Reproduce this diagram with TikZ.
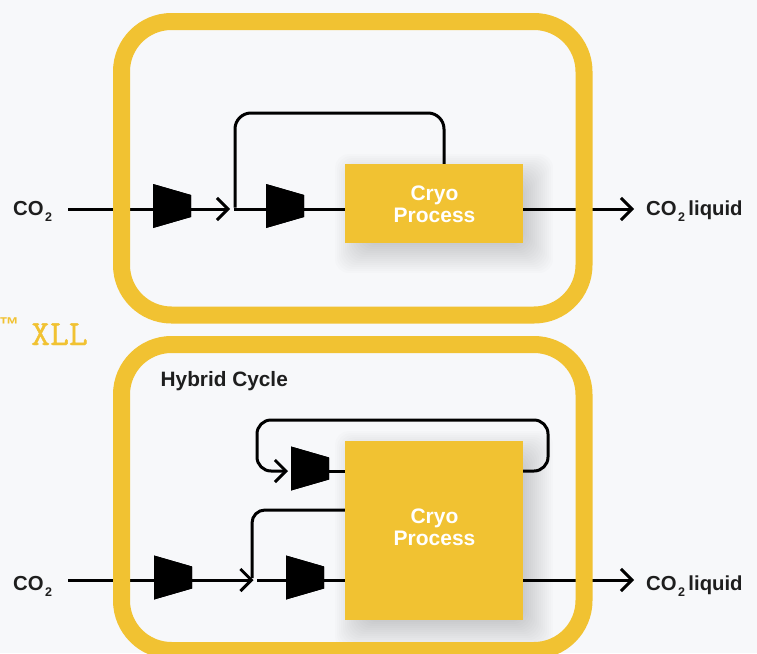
\documentclass[tikz,border=0pt]{standalone}
\usepackage{fontspec}
\setmainfont{Liberation Sans}
\newfontfamily\xllfont[FakeBold=1.2,FakeStretch=1.03]{Latin Modern Mono}
\usetikzlibrary{arrows.meta}
\definecolor{paper}{HTML}{F7F8FA}
\definecolor{gold}{HTML}{F1C232}
\definecolor{ink}{HTML}{1E1E1E}
\newcommand{\cotwo}{CO\kern1.5pt\raisebox{-5.5pt}{\fontsize{12.5}{13}\selectfont 2}}
\tikzset{
  line/.style={draw=black,line width=3pt},
  barb/.style={line,-{Straight Barb[length=11pt,width=22pt,line width=3pt]}},
  comp/.style={minimum width=38pt,minimum height=44pt,inner sep=0pt,outer sep=0pt,
    path picture={\fill[black] (path picture bounding box.north west)
      -- ([yshift=-11pt]path picture bounding box.north east)
      -- ([yshift=11pt]path picture bounding box.south east)
      -- (path picture bounding box.south west) -- cycle;}},
  cryo/.style={fill=gold,minimum width=178pt,inner sep=0pt,outer sep=0pt},
  frame/.style={draw=gold,line width=17pt,rounded corners=50pt},
  label/.style={text=ink,font=\fontsize{20.3}{22}\selectfont\bfseries,inner sep=0pt},
  cryotext/.style={text=white,font=\fontsize{21}{22}\selectfont\bfseries,align=center,inner sep=0pt},
}
\newcommand{\softshadow}[4]{% x1 y1 x2 y2
  \foreach \s in {-8,-6,...,20}{
    \fill[black,opacity=0.012,rounded corners=14pt]
      ({#1+10-\s},{#2+10-\s}) rectangle ({#3+10+\s},{#4+10+\s});
  }
}
\begin{document}
\begin{tikzpicture}[x=1pt,y=-1pt]
\useasboundingbox (0,0) rectangle (757,653);
\clip (0,0) rectangle (757,653);
\fill[paper] (0,0) rectangle (757,653);

% ---- top panel ----
\softshadow{345}{164}{523}{243}
\node[cryo,minimum height=79pt] (boxA) at (434,203.5) {};
\node[comp] (ca1) at (172,206) {};
\node[comp] (ca2) at (285,206) {};
\coordinate (inA) at (68,209);
\coordinate (tipA) at (230,209);
\coordinate (joinA) at (235,209);
\coordinate (outA) at (634,209);
\coordinate (topA) at (444,164);
\draw[barb] (inA) -- (tipA);
\draw[line,rounded corners=16pt] (topA) -- (444,113) -- (235,113) -- ([yshift=1.5pt]joinA);
\draw[line] ([xshift=-1.5pt]joinA) -- (boxA.west |- joinA);
\draw[barb] (boxA.east |- outA) -- (outA);
\node[comp] at (ca1) {};
\node[comp] at (ca2) {};
\node[cryo,minimum height=79pt] at (boxA) {};
\node[cryotext] (txtA) at (434.5,204) {Cryo\\Process};

% ---- bottom panel ----
\softshadow{345}{441}{523}{620}
\node[cryo,minimum height=179pt] (boxB) at (434,530.5) {};
\node[comp] (cb1) at (173,577.5) {};
\node[comp] (cb2) at (305,577.5) {};
\node[comp] (cb3) at (310,468.5) {};
\coordinate (inB) at (68,580);
\coordinate (tipB) at (253.5,580);
\coordinate (joinB) at (257,580);
\coordinate (outB) at (634,580);
\coordinate (loopIn) at (288,471);
\draw[barb] (inB) -- (tipB);
\draw[line] (joinB) -- (boxB.west |- joinB);
\draw[line,rounded corners=13pt] (boxB.west |- 0,510) -- (252,510) -- (252,578);
\draw[barb,rounded corners=14pt] (boxB.east |- 0,471) -- (548,471) -- (548,420) -- (257,420) -- (257,471) -- (loopIn);
\draw[line] (cb3.east |- 0,471) -- (boxB.west |- 0,471);
\draw[barb] (boxB.east |- outB) -- (outB);
\node[comp] at (cb1) {};
\node[comp] at (cb2) {};
\node[comp] at (cb3) {};
\node[cryo,minimum height=179pt] at (boxB) {};
\node[cryotext] (txtB) at (434.5,527) {Cryo\\Process};

% ---- frames ----
\draw[frame] (121.5,21.5) rectangle (584,315);
\draw[frame] (121.5,344.5) rectangle (584,650.5);

% ---- labels ----
\node[label,anchor=base west] (l1) at (13,215.5) {\cotwo};
\node[label,anchor=base west] (l2) at (646,215.5) {\cotwo\,liquid};
\node[label,anchor=base west] (l3) at (13,590.5) {\cotwo};
\node[label,anchor=base west] (l4) at (646,590.5) {\cotwo\,liquid};
\node[label,anchor=base west] (l5) at (160.5,386.5) {\fontsize{20.8}{22}\selectfont Hybrid Cycle};
\node[anchor=base west,inner sep=0pt,text=gold] (tm) at (-1,331) {\fontsize{20}{20}\selectfont\bfseries ™};
\node[anchor=base west,inner sep=0pt,text=gold] (xll) at (31,345) {\fontsize{35.5}{36}\selectfont\xllfont XLL};
\end{tikzpicture}
\end{document}
